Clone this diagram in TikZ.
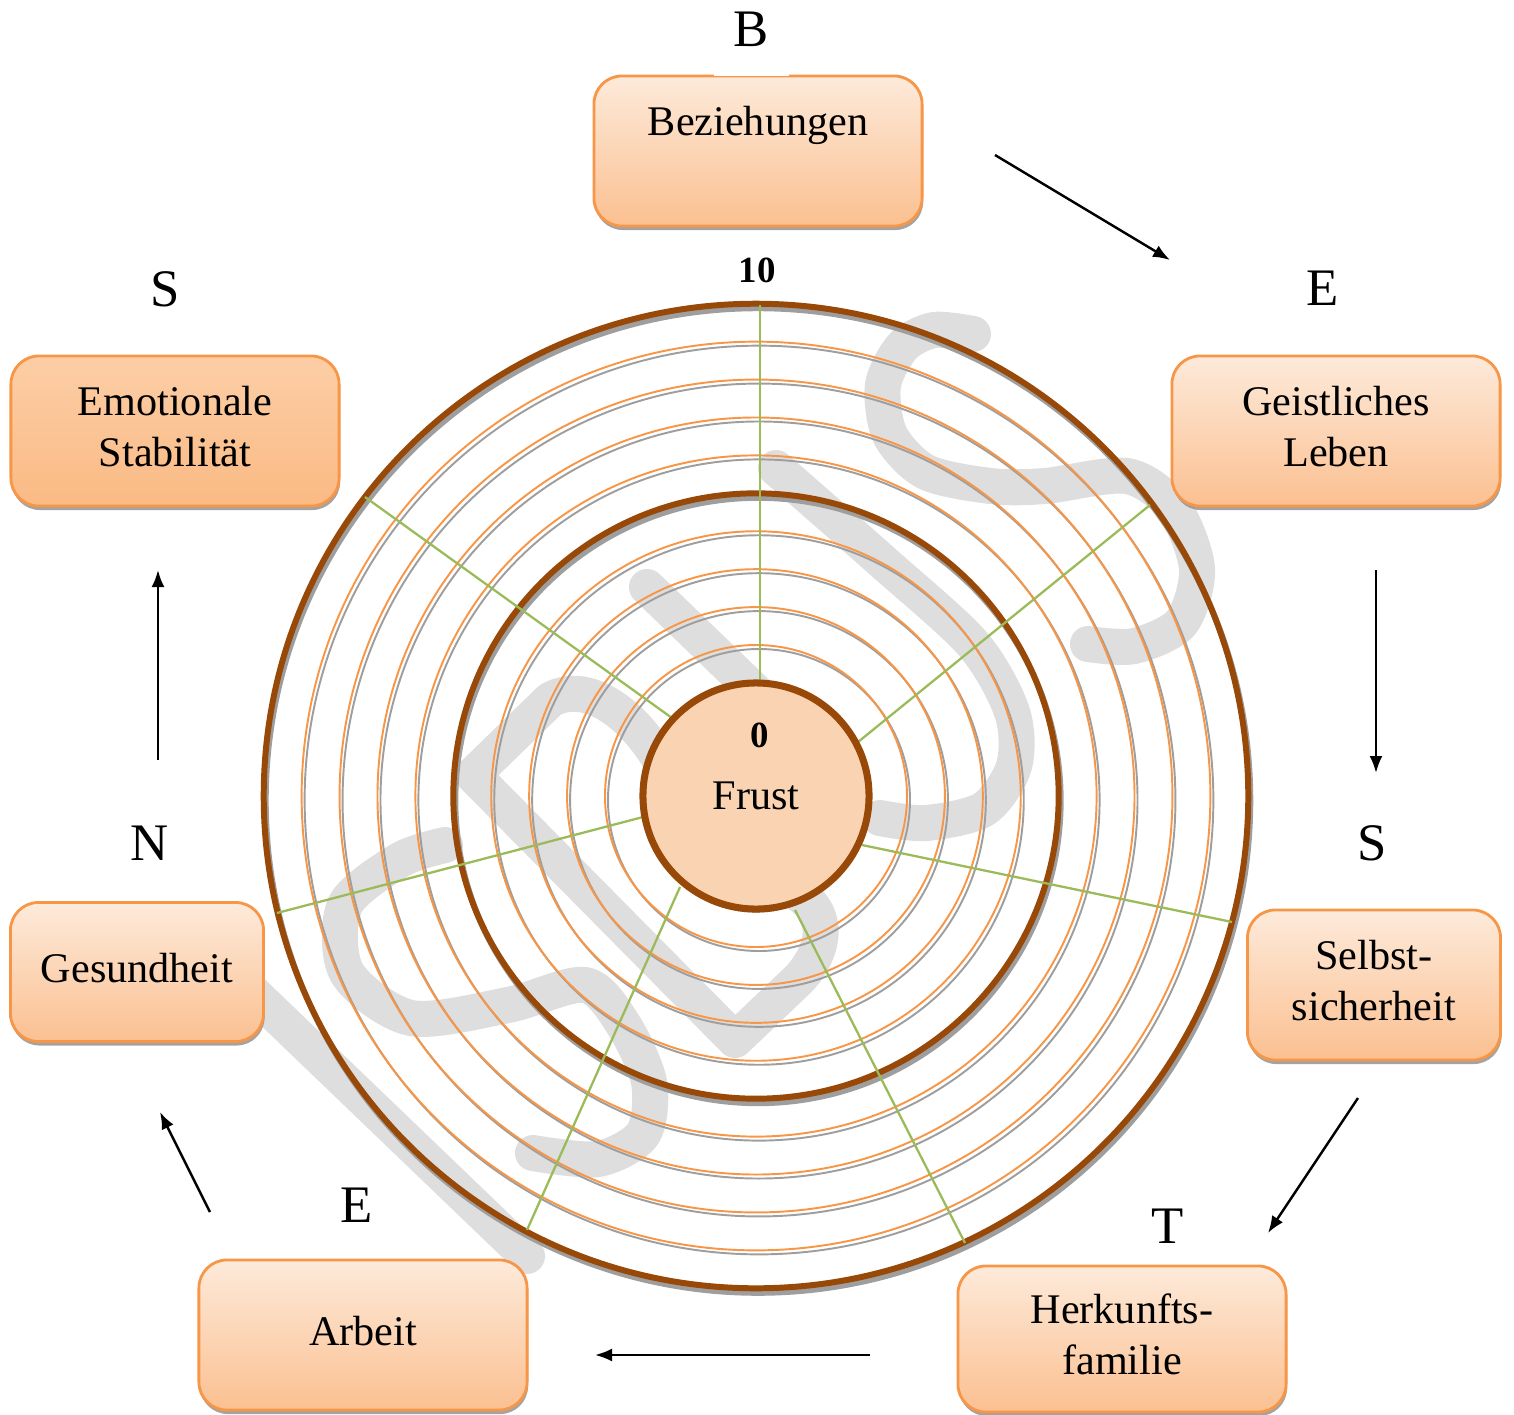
\documentclass[tikz,border=0pt]{standalone}
\usepackage{fontspec}
\setmainfont{Liberation Serif}
\usetikzlibrary{shapes,arrows.meta,shadows}

\definecolor{boxLine}{RGB}{247,150,70}
\definecolor{boxTop}{RGB}{253,234,218}
\definecolor{boxBottom}{RGB}{251,192,145}
\definecolor{emoTop}{RGB}{252,206,166}
\definecolor{emoBottom}{RGB}{250,186,132}
\definecolor{ringBrown}{RGB}{152,72,7}
\definecolor{spokeGreen}{RGB}{155,187,89}
\definecolor{frustFill}{RGB}{250,212,178}
\definecolor{markGray}{RGB}{222,222,222}

\newcommand{\boxtext}[1]{\begin{tabular}{@{}c@{}}#1\end{tabular}}

\tikzset{>={Latex[length=1.7mm,width=1.3mm]}}
\tikzstyle{block} = [rectangle, draw=boxLine, line width=0.8pt, rounded corners=0.28cm,
  top color=boxTop, bottom color=boxBottom, minimum width=3.28cm, minimum height=1.5cm,
  inner sep=0pt, font=\fontsize{12pt}{14.3pt}\selectfont,
  drop shadow={shadow xshift=0.01cm, shadow yshift=-0.04cm, fill=black!45, opacity=0.8}]
\tikzstyle{Sblock} = [block, minimum width=2.53cm]
\tikzstyle{letter} = [font=\fontsize{15pt}{18pt}\selectfont, inner sep=1pt]
\tikzstyle{scaleNum} = [font=\fontsize{10.5pt}{12pt}\selectfont\bfseries, inner sep=1pt]
\tikzstyle{ring} = [draw=boxLine, line width=0.55pt]
\tikzstyle{ringB} = [draw=ringBrown, line width=1.7pt]
\tikzstyle{ringShadow} = [draw=black!38, line width=0.55pt]
\tikzstyle{spoke} = [draw=spokeGreen, line width=0.65pt]
\tikzstyle{line} = [draw,->,line width=0.7pt]
\tikzstyle{wmark} = [draw=markGray, line width=0.36cm, line cap=round, line join=round]

\begin{document}
\begin{tikzpicture}[x=0.01cm, y=-0.01cm]

   \useasboundingbox (0,0) rectangle (1514,1414);

   %% Watermark
   \draw[wmark] (250,990) -- (527,1256);
   \draw[wmark] plot[smooth] coordinates {(445,845) (400,860) (345,905) (347,973) (411,1018)
      (508,1005) (585,985) (623,1024) (649,1082) (643,1134) (598,1159) (533,1153)};
   \draw[wmark] (647,587) -- (790,725);
   \draw[wmark] (660,760) .. controls (630,710) and (585,680) .. (550,700) -- (473,775)
      -- (735,1040) -- (800,978) .. controls (825,950) and (830,915) .. (800,895);
   \draw[wmark] plot[smooth] coordinates {(776,468) (883,562) (973,644) (1012,712)
      (1014,766) (984,809) (926,823) (880,818)};
   \draw[wmark] plot[smooth] coordinates {(973,334) (934,330) (903,346) (883,385) (890,435)
      (926,472) (991,486) (1045,486) (1127,476) (1174,508) (1197,569) (1181,623)
      (1134,646) (1088,644)};

   %% Rings
   \coordinate (ctr) at (756,796);
   \foreach \i in {1,...,10}
      \draw[ringShadow] ([xshift=0.03cm,yshift=-0.04cm]ctr) circle[radius=1.13cm+0.379cm*\i];
   \draw[ringShadow, line width=1.7pt] ([xshift=0.02cm,yshift=-0.045cm]ctr) circle[radius=3.025cm];
   \draw[ringShadow, line width=1.7pt] ([xshift=0.02cm,yshift=-0.045cm]ctr) circle[radius=4.92cm];
   \foreach \i in {1,2,3,4,6,7,8,9}
      \draw[ring] (ctr) circle[radius=1.13cm+0.379cm*\i];
   \draw[ringB] (ctr) circle[radius=3.025cm];
   \draw[ringB] (ctr) circle[radius=4.92cm];

   % Spokes
   \foreach \xa/\ya/\xb/\yb in {760/683/760/305, 858/742/1150/505, 862/845/1232/922,
      795/910/965/1243, 680/887/527/1230, 643/817/277/913, 672/718/365/497}
      \draw[spoke] (\xa,\ya) -- (\xb,\yb);

   % Centre
   \node[circle, draw=ringBrown, line width=2pt, fill=frustFill, minimum size=2.26cm,
      inner sep=0pt, font=\fontsize{12pt}{14.3pt}\selectfont,
      drop shadow={shadow xshift=0cm, shadow yshift=-0.035cm, fill=black!40, opacity=0.8}]
      (frust) at (ctr) {Frust};
   \node[scaleNum] (zero) at (760,735) {0};
   \node[scaleNum] (ten) at (757,270) {10};

   %% Boxes
   \node[block] (bez) at (758,151) {\boxtext{Beziehungen\\ ~}};
   \node[block] (geist) at (1336,431) {\boxtext{Geistliches\\Leben}};
   \node[Sblock] (selbst) at (1374,985) {\boxtext{Selbst-\\sicherheit}};
   \node[block, minimum height=1.46cm] (herk) at (1122,1339) {\boxtext{Herkunfts-\\familie}};
   \node[block] (arbeit) at (363,1335) {\boxtext{Arbeit}};
   \node[Sblock, minimum height=1.39cm] (gesund) at (137,972) {\boxtext{Gesundheit}};
   \node[block, top color=emoTop, bottom color=emoBottom] (emot) at (175,431)
      {\boxtext{Emotionale\\Stabilität}};

   % Letters
   \node[letter, fill=white, minimum width=0.75cm, minimum height=0.92cm] (lB)
      at (bez.north)[xshift=-0.065cm, yshift=0.45cm] {B};
   \node[letter] (lE1) at (geist.north)[xshift=-0.13cm, yshift=0.66cm] {E};
   \node[letter] (lS1) at (selbst.north)[xshift=-0.02cm, yshift=0.65cm] {S};
   \node[letter] (lT) at (herk.north)[xshift=0.46cm, yshift=0.38cm] {T};
   \node[letter] (lE2) at (arbeit.north)[xshift=-0.06cm, yshift=0.53cm] {E};
   \node[letter] (lN) at (gesund.north)[xshift=0.13cm, yshift=0.58cm] {N};
   \node[letter] (lS2) at (emot.north)[xshift=-0.095cm, yshift=0.65cm] {S};

   %% Arrows
   \coordinate (a1) at (995,155);   \coordinate (b1) at (1170,260);
   \coordinate (a2) at (1376,570);  \coordinate (b2) at (1376,773);
   \coordinate (a3) at (1358,1098); \coordinate (b3) at (1268,1233);
   \coordinate (a4) at (870,1355);  \coordinate (b4) at (595,1355);
   \coordinate (a5) at (210,1212);  \coordinate (b5) at (160,1112);
   \coordinate (a6) at (158,760);   \coordinate (b6) at (158,570);

   \path[line] (a1) -- (b1);
   \path[line] (a2) -- (b2);
   \path[line] (a3) -- (b3);
   \path[line] (a4) -- (b4);
   \path[line] (a5) -- (b5);
   \path[line] (a6) -- (b6);

\end{tikzpicture}
\end{document}
